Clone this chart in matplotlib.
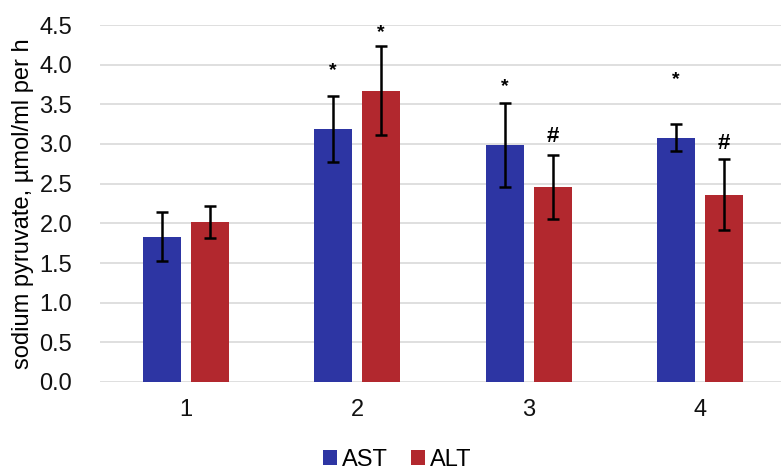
import numpy as np
import matplotlib.pyplot as plt

plt.rcParams['font.family'] = ['Liberation Sans', 'DejaVu Sans']

groups = ['1', '2', '3', '4']
ast = [1.83, 3.19, 2.99, 3.08]
ast_err = [0.31, 0.42, 0.53, 0.17]
alt = [2.02, 3.67, 2.46, 2.36]
alt_err = [0.20, 0.56, 0.40, 0.45]
# significance marks and the height they sit at
ast_marks = ['', '*', '*', '*']
ast_mark_y = [0, 3.93, 3.72, 3.81]
alt_marks = ['', '*', '#', '#']
alt_mark_y = [0, 4.40, 3.10, 3.01]

blue = '#2D35A3'
red = '#B2282E'

fig = plt.figure(figsize=(7.81, 4.72), dpi=100)
ax = fig.add_axes([100 / 781, 1 - 382 / 472, 686 / 781, (382 - 25) / 472])

x = np.arange(len(groups))
w = 0.22
off = 0.14
ekw = dict(ecolor='black', elinewidth=1.8, capsize=4, capthick=1.8)
ax.bar(x - off, ast, w, yerr=ast_err, color=blue, label='AST', error_kw=ekw, zorder=3)
ax.bar(x + off, alt, w, yerr=alt_err, color=red, label='ALT', error_kw=ekw, zorder=3)

for i in range(len(groups)):
    if ast_marks[i]:
        ax.text(x[i] - off, ast_mark_y[i], ast_marks[i], ha='center', va='center',
                fontsize=14, fontweight='bold')
    if alt_marks[i]:
        s = 14 if alt_marks[i] == '*' else 16
        ax.text(x[i] + off, alt_mark_y[i], alt_marks[i], ha='center', va='center',
                fontsize=s, fontweight='bold')

ax.set_ylim(0, 4.5)
ax.set_xlim(-0.5, 3.5)
ax.set_yticks(np.arange(0, 4.51, 0.5))
ax.set_yticklabels([f'{v:.1f}' for v in np.arange(0, 4.51, 0.5)])
ax.set_xticks(x)
ax.set_xticklabels(groups)
ax.tick_params(axis='both', length=0, labelsize=17, colors='#111111')
ax.tick_params(axis='x', pad=12)
ax.tick_params(axis='y', pad=20)
ax.grid(axis='y', color='#D9D9D9', linewidth=1.2, zorder=0)
for s in ax.spines.values():
    s.set_visible(False)
ax.set_ylabel('sodium pyruvate, µmol/ml per h', fontsize=17, labelpad=4)

fig.legend(*ax.get_legend_handles_labels(), loc='center', bbox_to_anchor=(397 / 781, 1 - 460 / 472),
           ncol=2, frameon=False, fontsize=17, handlelength=0.6, handleheight=0.6,
           handletextpad=0.2, columnspacing=1.0, borderpad=0)

fig.savefig('out.png', dpi=100)
